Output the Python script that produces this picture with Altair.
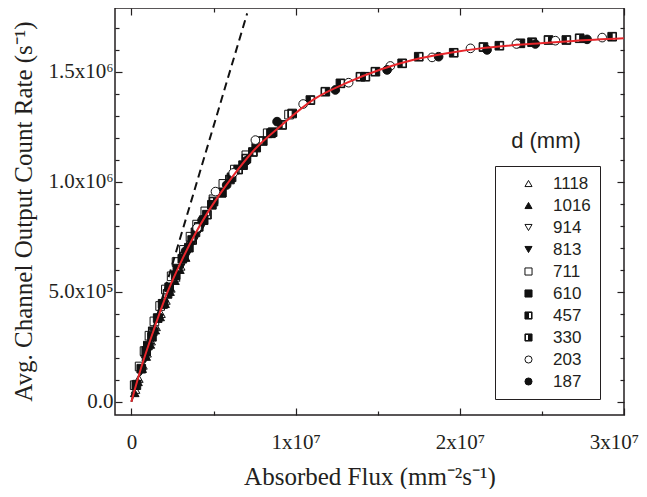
import json
import altair as alt
import pandas as pd

# ---------------- data (flux in 1e6 mm^-2 s^-1, rate in 1e5 s^-1) ----------------
d_labels = ["1118", "1016", "914", "813", "711", "610", "457", "330", "203", "187"]
legend_title = "d (mm)"

flux_1118 = [0.25, 0.45, 0.7, 0.95, 1.2, 1.5, 1.8, 2.1, 2.4, 2.7, 3.0]
rate_1118 = [0.55, 1.05, 1.65, 2.2, 2.75, 3.4, 4.0, 4.6, 5.15, 5.65, 6.15]

flux_1016 = [0.2, 0.4, 0.65, 0.9, 1.15, 1.45, 1.75, 2.05, 2.35, 2.65, 2.95, 3.3]
rate_1016 = [0.4, 0.9, 1.5, 2.05, 2.6, 3.25, 3.85, 4.45, 5.0, 5.5, 6.0, 6.55]

flux_914 = [0.3, 0.55, 0.8, 1.05, 1.35, 1.65, 1.95, 2.25, 2.6, 2.9, 3.2, 3.6]
rate_914 = [0.75, 1.35, 1.95, 2.45, 3.15, 3.8, 4.35, 4.95, 5.55, 6.05, 6.5, 7.1]

flux_813 = [0.35, 0.6, 0.85, 1.1, 1.4, 1.7, 2.0, 2.3, 2.65, 3.0, 3.4, 3.8, 4.2]
rate_813 = [0.8, 1.4, 1.95, 2.5, 3.15, 3.8, 4.4, 4.95, 5.55, 6.1, 6.7, 7.3, 7.85]

flux_711 = [0.2, 0.5, 0.8, 1.1, 1.4, 1.75, 2.1, 2.45, 2.75, 3.2, 3.6, 4.0, 4.5, 5.0, 5.6, 6.3, 7.0, 8.3, 9.6]
rate_711 = [0.75, 1.6, 2.3, 3.0, 3.65, 4.35, 5.1, 5.7, 6.35, 6.9, 7.5, 8.05, 8.65, 9.2, 9.9, 10.55, 11.2, 12.2, 13.05]

flux_610 = [0.3, 0.6, 0.9, 1.25, 1.6, 1.95, 2.3, 2.7, 3.1, 3.5, 3.9, 4.4, 4.9, 5.5, 6.1, 6.8, 7.6, 8.6]
rate_610 = [0.75, 1.5, 2.3, 2.95, 3.8, 4.45, 5.2, 5.75, 6.5, 7.0, 7.7, 8.25, 8.95, 9.5, 10.2, 10.75, 11.55, 12.25]

flux_457 = [1.0, 1.9, 2.8, 3.7, 4.6, 5.5, 6.5, 7.4, 8.5, 9.18, 10.9, 12.73, 14.25, 16.49, 17.5, 19.63, 22.41, 24.4, 26.49, 29.28]
rate_457 = [2.55, 4.45, 6.05, 7.35, 8.5, 9.5, 10.55, 11.35, 12.2, 12.58, 13.71, 14.47, 14.77, 15.38, 15.68, 15.86, 16.18, 16.34, 16.44, 16.59]

flux_330 = [1.3, 2.2, 3.2, 4.1, 5.0, 6.0, 7.0, 8.0, 9.79, 11.81, 13.95, 14.86, 21.44, 23.69, 25.4, 27.3]
rate_330 = [3.2, 4.9, 6.6, 7.95, 9.1, 10.1, 11.05, 11.85, 13.1, 14.09, 14.77, 15.0, 16.12, 16.29, 16.44, 16.52]

flux_203 = [4.0, 5.12, 6.2, 7.55, 10.46, 13.23, 15.77, 18.31, 20.65, 23.45, 25.82, 28.67]
rate_203 = [7.9, 9.55, 10.4, 11.89, 13.53, 14.5, 15.26, 15.65, 16.06, 16.26, 16.41, 16.55]

flux_187 = [3.3, 4.3, 5.8, 7.0, 8.87, 12.42, 15.57, 18.71, 21.66, 24.6, 27.75]
rate_187 = [6.85, 8.25, 9.85, 10.95, 12.73, 14.17, 15.08, 15.68, 15.99, 16.26, 16.47]

# fitted curve (red)
fit_flux = [0, 0.55, 1.36, 2.17, 2.98, 3.79, 4.61, 5.42, 6.23, 7.45, 9.07, 11.1, 13.14, 15.17, 17.19, 19.23, 21.25, 22.88, 24.91, 26.94, 29.98]
fit_rate = [0, 1.44, 3.26, 4.93, 6.29, 7.5, 8.56, 9.47, 10.3, 11.42, 12.52, 13.74, 14.5, 15.1, 15.54, 15.84, 16.06, 16.18, 16.29, 16.4, 16.52]

# dashed linear (ideal) line
lin_flux = [0, 7.05]
lin_rate = [0, 17.65]

# ticks
x_tick_values = [0, 10000000, 20000000, 30000000]
x_tick_labels = ["0", "1x10⁷", "2x10⁷", "3x10⁷"]
x_minor_values = [5000000, 15000000, 25000000]
y_tick_values = [0, 500000, 1000000, 1500000]
y_tick_labels = ["0.0", "5.0x10⁵", "1.0x10⁶", "1.5x10⁶"]
y_minor_values = [100000, 200000, 300000, 400000, 600000, 700000, 800000, 900000,
                  1100000, 1200000, 1300000, 1400000, 1600000, 1700000]

x_title = "Absorbed Flux (mm⁻²s⁻¹)"
y_title = "Avg. Channel Output Count Rate (s⁻¹)"

# ---------------- build tables ----------------
series = [
    ("1118", flux_1118, rate_1118), ("1016", flux_1016, rate_1016),
    ("914", flux_914, rate_914), ("813", flux_813, rate_813),
    ("711", flux_711, rate_711), ("610", flux_610, rate_610),
    ("457", flux_457, rate_457), ("330", flux_330, rate_330),
    ("203", flux_203, rate_203), ("187", flux_187, rate_187),
]
rows = []
for name, fx, ry in series:
    for a, b in zip(fx, ry):
        rows.append({"d": name, "flux": a * 1e6, "rate": b * 1e5})
pts = pd.DataFrame(rows)
fit = pd.DataFrame({"flux": [v * 1e6 for v in fit_flux], "rate": [v * 1e5 for v in fit_rate]})
lin = pd.DataFrame({"flux": [v * 1e6 for v in lin_flux], "rate": [v * 1e5 for v in lin_rate]})

half_left = "M-1,-1H1V1H-1Z M0,-0.86V0.86H0.86V-0.86Z"
half_right = "M-1,-1H1V1H-1Z M-0.86,-0.86V0.86H0V-0.86Z"
shape_range = ["triangle-up", "triangle-up", "triangle-down", "triangle-down",
               "square", "square", half_left, half_right, "circle", "circle"]
fill_range = ["white", "#111", "white", "#111", "white", "#111", "#111", "#111", "white", "#111"]
stroke_range = ["#111"] * len(d_labels)

INK = "#231f20"
xscale = alt.Scale(domain=[-1000000, 30000000], nice=False, zero=False)
yscale = alt.Scale(domain=[-60450, 1789500], nice=False, zero=False)

x_label_expr = f"{json.dumps(x_tick_labels, ensure_ascii=False)}[indexof({json.dumps(x_tick_values)}, datum.value)]"
y_label_expr = f"{json.dumps(y_tick_labels, ensure_ascii=False)}[indexof({json.dumps(y_tick_values)}, datum.value)]"

W, H = 509, 407


def tick_axis(orient, values, size):
    return alt.Axis(orient=orient, values=values, labels=False, domain=False, grid=False,
                    ticks=True, tickSize={"expr": f"-{size}"}, title=None,
                    tickColor=INK, tickWidth=1.2)


ax_bottom = alt.Axis(orient="bottom", values=x_tick_values, labelExpr=x_label_expr,
                     ticks=True, tickSize={"expr": "-7"}, tickColor=INK, tickWidth=1.2,
                     domain=False, grid=False, labelPadding=23, labelFlush=False,
                     labelOffset={"condition": {"test": f"datum.value == {x_tick_values[-1]}", "value": -10},
                                  "value": 0},
                     labelOverlap=False, title=x_title, titleX=W / 2, titleY=69,
                     titleBaseline="alphabetic", titleAlign="center")
ax_left = alt.Axis(orient="left", values=y_tick_values, labelExpr=y_label_expr,
                   ticks=True, tickSize={"expr": "-7"}, tickColor=INK, tickWidth=1.2,
                   domain=False, grid=False, labelPadding=9, labelOverlap=False,
                   title=y_title, titleX=-92, titleY=203, titleAngle=-90,
                   titleBaseline="middle", titleAlign="center")

legend = alt.Legend(title=None, orient="none", legendX=380, legendY=158,
                    strokeColor=INK, fillColor="white", padding=9,
                    symbolOffset=16, labelOffset=16, labelFont="Liberation Sans",
                    labelFontSize=17, labelColor=INK, symbolSize=50,
                    symbolStrokeWidth=1, rowPadding=4, symbolOpacity=1)

scatter = alt.Chart(pts).mark_point(filled=True, opacity=1, strokeWidth=1, size=75).encode(
    x=alt.X("flux:Q", scale=xscale, axis=ax_bottom),
    y=alt.Y("rate:Q", scale=yscale, axis=ax_left),
    shape=alt.Shape("d:N", scale=alt.Scale(domain=d_labels, range=shape_range), legend=legend),
    fill=alt.Fill("d:N", scale=alt.Scale(domain=d_labels, range=fill_range), legend=legend),
    stroke=alt.Stroke("d:N", scale=alt.Scale(domain=d_labels, range=stroke_range), legend=legend),
)

dashed = alt.Chart(lin).mark_line(color="#111", strokeWidth=2, strokeDash=[8, 5]).encode(
    x=alt.X("flux:Q", scale=xscale, axis=tick_axis("bottom", x_minor_values, 4)),
    y=alt.Y("rate:Q", scale=yscale, axis=tick_axis("left", y_minor_values, 4)),
)

fitline = alt.Chart(fit).mark_line(color="#e8262b", strokeWidth=2, interpolate="monotone").encode(
    x=alt.X("flux:Q", scale=xscale, axis=tick_axis("top", x_tick_values, 7)),
    y=alt.Y("rate:Q", scale=yscale, axis=tick_axis("right", y_tick_values, 7)),
)

title_txt = alt.Chart(pd.DataFrame({"t": [legend_title]})).mark_text(
    font="Liberation Sans", fontSize=22, align="center", baseline="alphabetic", color=INK
).encode(
    x=alt.X(datum=25250000, type="quantitative", scale=xscale, axis=tick_axis("top", x_minor_values, 4)),
    y=alt.Y(datum=1153000, type="quantitative", scale=yscale, axis=tick_axis("right", y_minor_values, 4)),
    text="t:N",
)

chart = alt.layer(scatter, dashed, fitline, title_txt).resolve_axis(
    x="independent", y="independent"
).properties(
    width=W, height=H,
    autosize=alt.AutoSizeParams(type="none"),
    padding={"left": 107, "top": 0, "right": 15, "bottom": 74},
).configure_view(
    stroke=INK, strokeWidth=1.5
).configure_axis(
    labelFont="Liberation Serif", labelFontSize=21, labelColor=INK,
    titleFont="Liberation Serif", titleFontSize=25, titleFontWeight="normal", titleColor=INK,
)

chart.save("out.html", embed_options={"renderer": "svg", "actions": False})
